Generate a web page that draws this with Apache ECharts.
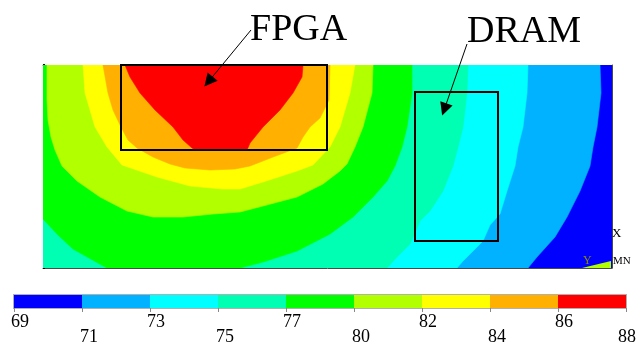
<!DOCTYPE html>
<html>
<head>
<meta charset="utf-8">
<script src="https://cdn.jsdelivr.net/npm/echarts@6/dist/echarts.min.js"></script>
<style>
  html, body { margin: 0; padding: 0; background: #ffffff; }
  #chart { width: 640px; height: 346px; }
</style>
</head>
<body>
<div id="chart"></div>
<script>
// Temperature band edges (°C) shown under the colour bar
const bandEdges = [69, 71, 73, 75, 77, 80, 82, 84, 86, 88];
// One fill colour per band, coldest first
const bandColors = ['#0000FF', '#00B2FF', '#00FFFF', '#00FFB2', '#00FF00',
                    '#B2FF00', '#FFFF00', '#FFB000', '#FF0000'];

// Board extent in plot units (x across, y downward from the top edge)
const boardW = 569;
const boardH = 203;

// Isotherms, [x, y] points along each line.
// 71-77 °C run from the top edge to the bottom edge (hotter side on the left).
const iso71 = [[557, 0], [558, 28], [554, 62], [550, 82], [547, 101], [537, 126],
               [524, 152], [512, 172], [494, 192], [485, 203]];
const iso73 = [[485, 0], [484, 28], [480, 62], [475, 82], [472, 101], [464, 126],
               [457, 149], [447, 160], [440, 176], [434, 182], [420, 196], [414, 203]];
const iso75 = [[425, 0], [424, 28], [420, 62], [415, 82], [410, 101], [400, 126],
               [387, 146], [377, 156], [367, 179], [354, 192], [344, 203]];
const iso77 = [[369, 0], [369, 28], [364, 62], [359, 82], [352, 101], [344, 116],
               [330, 132], [310, 152], [287, 169], [254, 186], [220, 197], [197, 203]];
// second 77 °C line, cutting off the cooler lower-left corner
const iso77Corner = [[0, 154], [15, 170], [30, 184], [64, 203]];
// 80-86 °C close on the top edge around the FPGA hot spot
const iso80 = [[4, 0], [4, 35], [5, 55], [8, 72], [12, 85], [19, 101], [34, 116], [57, 132],
               [84, 146], [110, 152], [140, 152], [170, 149], [197, 147], [220, 141], [254, 132],
               [280, 119], [297, 106], [304, 99], [312, 82], [320, 62], [329, 28], [330, 0]];
const iso82 = [[40, 0], [42, 28], [47, 45], [52, 62], [64, 82], [79, 100], [114, 112],
               [147, 121], [180, 124], [197, 124], [220, 117], [254, 106], [270, 100],
               [287, 82], [297, 62], [307, 28], [312, 0]];
const iso84 = [[60, 0], [65, 28], [70, 45], [78, 62], [85, 75], [94, 83], [110, 92],
               [127, 99], [142, 103], [167, 105], [192, 104], [207, 101], [230, 92],
               [254, 83], [260, 72], [267, 62], [277, 53], [286, 35], [287, 0]];
const iso86 = [[82, 0], [87, 12], [97, 28], [112, 45], [130, 62], [140, 75], [149, 83],
               [152, 85], [204, 85], [207, 78], [220, 62], [237, 45], [250, 28], [259, 12], [260, 0]];

// Component outlines on the board: [x0, y0, x1, y1]
const chipNames = ['FPGA', 'DRAM'];
const chipRects = [
  [78, 0, 284, 85],
  [372, 27, 455, 176]
];
// Callout arrows: [from, to] in board units (text sits above the board)
const calloutArrows = [
  [[208, -35], [165.5, 16.6]],
  [[424, -21], [401.3, 44.4]]
];

// Filled regions, painted coolest first; each covers everything hotter than its level
const boardCorners = [[0, 0], [boardW, 0], [boardW, boardH], [0, boardH]];
const regions = [
  { band: 0, pts: boardCorners },
  { band: 1, pts: [[0, 0]].concat(iso71, [[0, boardH]]) },
  { band: 2, pts: [[0, 0]].concat(iso73, [[0, boardH]]) },
  { band: 3, pts: [[0, 0]].concat(iso75, [[0, boardH]]) },
  { band: 4, pts: [[0, 0]].concat(iso77, iso77Corner.slice().reverse()) },
  { band: 5, pts: iso80 },
  { band: 6, pts: iso82 },
  { band: 7, pts: iso84 },
  { band: 8, pts: iso86 }
];

const legendCells = bandColors.map((c, i) => [i, i + 1, 0, 1, i]);

const serif = '"Liberation Serif", "Times New Roman", serif';

function edgeLabel(v, row) {
  if (v % 2 !== row) return '';
  return v === 9 ? '{last|' + bandEdges[v] + '}' : String(bandEdges[v]);
}

const chart = echarts.init(document.getElementById('chart'), null, { renderer: 'canvas' });
chart.setOption({
  animation: false,
  backgroundColor: '#ffffff',
  grid: [
    { left: 43, top: 65, width: 569, height: 203, show: false, outerBoundsMode: 'none', containLabel: false },
    { left: 14, top: 295, width: 612, height: 13, show: true, borderColor: '#b0b0b0', borderWidth: 2,
      backgroundColor: '#b0b0b0', outerBoundsMode: 'none', containLabel: false }
  ],
  xAxis: [
    { gridIndex: 0, type: 'value', min: 0, max: boardW, position: 'bottom',
      axisLine: { show: true, onZero: false, lineStyle: { color: '#4a4a4a', width: 1 } },
      axisTick: { show: false }, axisLabel: { show: false }, splitLine: { show: false } },
    { gridIndex: 0, type: 'value', min: 0, max: boardW, position: 'top',
      axisLine: { show: true, onZero: false, lineStyle: { color: '#666666', width: 1 } },
      axisTick: { show: false }, axisLabel: { show: false }, splitLine: { show: false } },
    // colour bar: upper row of labels
    { gridIndex: 1, type: 'value', min: 0, max: 9, interval: 1, position: 'bottom',
      axisLine: { show: false },
      axisTick: { show: true, length: 4, lineStyle: { color: '#888888' } },
      splitLine: { show: false },
      axisLabel: { show: true, margin: 5, align: 'left', padding: [0, 0, 0, -3],
        fontFamily: serif, fontSize: 18, color: '#000',
        showMinLabel: true, showMaxLabel: true, hideOverlap: false,
        formatter: v => edgeLabel(v, 0) } },
    // colour bar: lower row of labels
    { gridIndex: 1, type: 'value', min: 0, max: 9, interval: 1, position: 'bottom',
      axisLine: { show: false }, axisTick: { show: false }, splitLine: { show: false },
      axisLabel: { show: true, margin: 20, align: 'left', padding: [0, 0, 0, -2],
        fontFamily: serif, fontSize: 18, color: '#000',
        showMinLabel: true, showMaxLabel: true, hideOverlap: false,
        rich: { last: { fontFamily: serif, fontSize: 18, color: '#000', padding: [0, 0, 0, -6] } },
        formatter: v => edgeLabel(v, 1) } }
  ],
  yAxis: [
    { gridIndex: 0, type: 'value', min: 0, max: boardH, inverse: true, interval: boardH / 15,
      axisLine: { show: true, onZero: false, lineStyle: { color: '#3a3a3a', width: 1 } },
      axisTick: { show: true, inside: true, length: 2, lineStyle: { color: '#000', width: 2 } },
      axisLabel: { show: false }, splitLine: { show: false } },
    { gridIndex: 0, type: 'value', min: 0, max: boardH, inverse: true, position: 'right',
      axisLine: { show: true, onZero: false, lineStyle: { color: '#4a4a4a', width: 1 } },
      axisTick: { show: false }, axisLabel: { show: false }, splitLine: { show: false } },
    { gridIndex: 1, type: 'value', min: 0, max: 1, show: false }
  ],
  series: [
    { type: 'custom', name: 'temperature', xAxisIndex: 0, yAxisIndex: 0, silent: true, clip: true, z: 1,
      data: regions.map(r => r.band),
      renderItem: (params, api) => {
        const region = regions[params.dataIndex];
        return { type: 'polygon',
          shape: { points: region.pts.map(p => api.coord(p)) },
          style: { fill: bandColors[region.band], stroke: bandColors[region.band], lineWidth: 0.6 } };
      } },
    { type: 'custom', name: 'chips', xAxisIndex: 0, yAxisIndex: 0, silent: true, z: 3,
      encode: { x: [0, 2], y: [1, 3] },
      data: chipRects,
      renderItem: (params, api) => {
        const p0 = api.coord([api.value(0), api.value(1)]);
        const p1 = api.coord([api.value(2), api.value(3)]);
        return { type: 'rect',
          shape: { x: p0[0], y: p0[1], width: p1[0] - p0[0], height: p1[1] - p0[1] },
          style: { fill: 'none', stroke: '#000000', lineWidth: 2 } };
      } },
    { type: 'lines', name: 'callouts', coordinateSystem: 'cartesian2d', xAxisIndex: 0, yAxisIndex: 0,
      clip: false, silent: true, z: 4,
      symbol: ['none', 'triangle'], symbolSize: [0, 13],
      lineStyle: { color: '#000000', width: 1, opacity: 1, curveness: 0 },
      itemStyle: { color: '#000000' },
      data: calloutArrows.map((c, i) => ({ name: chipNames[i], coords: c })) },
    { type: 'custom', name: 'scale', xAxisIndex: 2, yAxisIndex: 2, silent: true, z: 2,
      encode: { x: [0, 1], y: [2, 3] }, data: legendCells,
      renderItem: (params, api) => {
        const p0 = api.coord([api.value(0), api.value(3)]);
        const p1 = api.coord([api.value(1), api.value(2)]);
        return { type: 'rect',
          shape: { x: p0[0], y: p0[1], width: p1[0] - p0[0], height: p1[1] - p0[1] },
          style: { fill: bandColors[api.value(4)] } };
      } }
  ],
  graphic: [
    { type: 'text', left: 250, top: 11, z: 10,
      style: { text: chipNames[0], font: '38px ' + serif, fill: '#000' } },
    { type: 'text', left: 467, top: 13, z: 10,
      style: { text: chipNames[1], font: '38px ' + serif, fill: '#000' } },
    { type: 'polygon', z: 10, shape: { points: [[582, 268], [611, 261], [611, 268]] },
      style: { fill: '#B2FF00' } },
    { type: 'text', left: 612, top: 227, z: 10,
      style: { text: 'X', font: '13px ' + serif, fill: '#000' } },
    { type: 'text', left: 583, top: 255, z: 10,
      style: { text: 'Y', font: '12px ' + serif, fill: '#8c8c00' } },
    { type: 'text', left: 613, top: 256, z: 10,
      style: { text: 'MN', font: '11px ' + serif, fill: '#000' } }
  ]
});
</script>
</body>
</html>
